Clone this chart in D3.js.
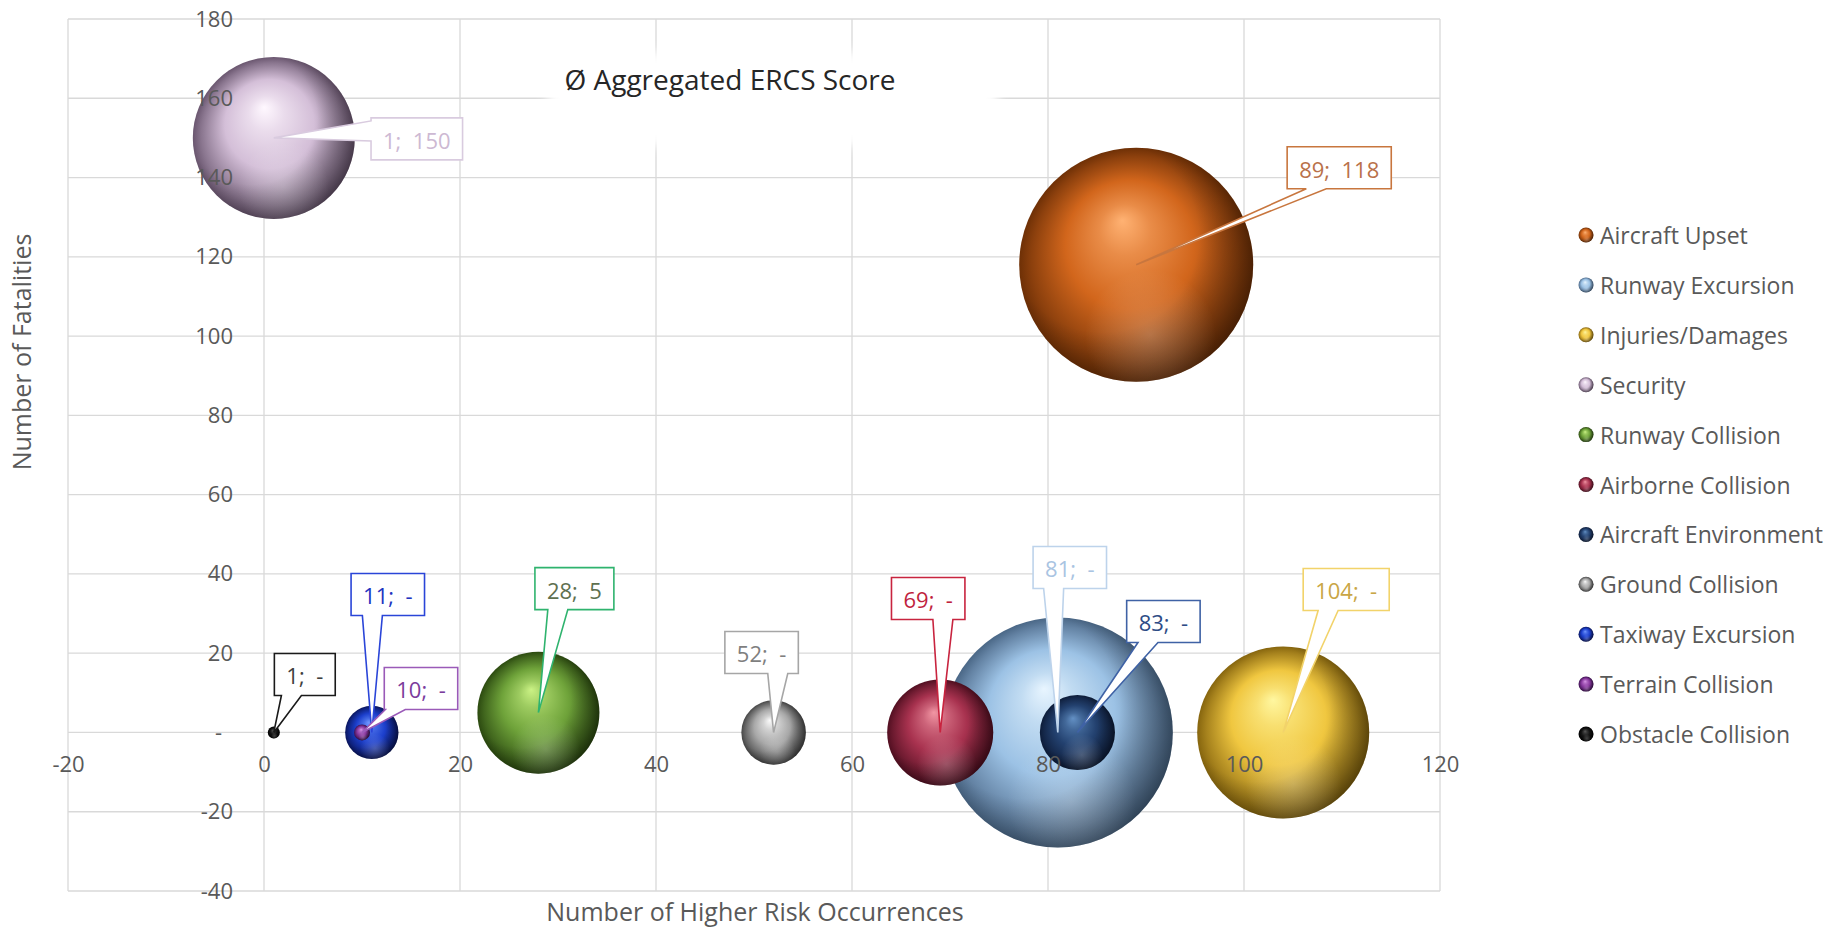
<!DOCTYPE html>
<html>
<head>
<meta charset="utf-8">
<script src="https://cdn.jsdelivr.net/npm/d3@7"></script>
<style>
  html, body { margin: 0; padding: 0; background: #ffffff; }
  svg { display: block; font-family: "Open Sans", "Noto Sans", sans-serif; }
</style>
</head>
<body>
<svg id="chart" width="1841" height="930"></svg>
<script>
// ---- data -------------------------------------------------------------
const categories = [
  "Aircraft Upset", "Runway Excursion", "Injuries/Damages", "Security",
  "Runway Collision", "Airborne Collision", "Aircraft Environment",
  "Ground Collision", "Taxiway Excursion", "Terrain Collision", "Obstacle Collision"
];
const occurrences = [89, 81, 104, 1, 28, 69, 83, 52, 11, 10, 1];
const fatalities  = [118, 0, 0, 150, 5, 0, 0, 0, 0, 0, 0];
const ercsScore   = [1369, 1323, 740, 656, 372, 281, 141, 104, 71, 6.4, 3.6];
const xTicks = [-20, 0, 20, 40, 60, 80, 100, 120];
const yTicks = [-40, -20, 0, 20, 40, 60, 80, 100, 120, 140, 160, 180];

// ---- styling ------------------------------------------------------------
const sphereColors = [
  { base: "#D2661C", light: "#FFB273", dark: "#6E3006" },
  { base: "#9CC2E5", light: "#E8F5FF", dark: "#4A6786" },
  { base: "#F0C740", light: "#FFF7A0", dark: "#86650E" },
  { base: "#D4BFD8", light: "#FFF8FF", dark: "#6A566F" },
  { base: "#6FA33A", light: "#CBF285", dark: "#2C4A10" },
  { base: "#A8324F", light: "#F296A4", dark: "#520F21" },
  { base: "#23416F", light: "#6390C4", dark: "#0D1C38" },
  { base: "#A8A8A8", light: "#FBFBFB", dark: "#464646" },
  { base: "#1C3FCC", light: "#7096FF", dark: "#0A165E" },
  { base: "#8A3AA0", light: "#D795E6", dark: "#3C0F4E" },
  { base: "#141414", light: "#5A5A5A", dark: "#000000" }
];
const labelColors = [
  { text: "#B9714A", border: "#C8763E" },
  { text: "#A9C4E2", border: "#BDD3EB" },
  { text: "#C9A646", border: "#F2D36A" },
  { text: "#CDB9D3", border: "#D9CBDF" },
  { text: "#5E7050", border: "#2FB36E" },
  { text: "#C01F3E", border: "#C8243F" },
  { text: "#2E4C86", border: "#3F62A5" },
  { text: "#7F7F7F", border: "#A6A6A6" },
  { text: "#1F35C0", border: "#2A45D8" },
  { text: "#7B3C9C", border: "#9A5AB8" },
  { text: "#3F3F3F", border: "#1A1A1A" }
];
// callout placement: box centre offset from the bubble centre (px) and
// where along the attached edge the pointer leaves the box (0..1)
const labelLayout = [
  [203, -97, 0.28], [12, -165, 0.28], [63, -143, 0.29], [143, 1, 0.31],
  [36, -124, 0.29], [-12, -134, 0.70], [86, -111, 0.29], [-12, -80, 0.72],
  [16, -138, 0.29], [59, -44, 0.15], [31, -58, 0.28]
];

// ---- scales -------------------------------------------------------------
const svg = d3.select("#chart");
const x = d3.scaleLinear().domain([-20, 120]).range([68, 1440]);
const y = d3.scaleLinear().domain([-40, 180]).range([891, 19]);
const r = d3.scaleSqrt().domain([0, d3.max(ercsScore)]).range([0, 117]);
// plain hyphen for negatives, a dash for zero on the value axis
const fmt = v => (v < 0 ? "-" : "") + Math.abs(v);

const defs = svg.append("defs");

// sphere shading per series
sphereColors.forEach((c, i) => {
  const g = defs.append("radialGradient").attr("id", "sph" + i)
    .attr("cx", 0.5).attr("cy", 0.5).attr("r", 0.5)
    .attr("fx", 0.44).attr("fy", 0.31);
  const mid = d3.interpolateRgb(c.light, c.base)(0.5);
  [[0, c.light], [0.22, mid], [0.55, c.base], [0.88, d3.interpolateRgb(c.base, c.dark)(0.7)], [1, c.dark]]
    .forEach(([o, col]) => g.append("stop").attr("offset", o).attr("stop-color", col));
});
// darker right/bottom rim
const shade = defs.append("radialGradient").attr("id", "shade")
  .attr("cx", 0.36).attr("cy", 0.38).attr("r", 0.74);
shade.append("stop").attr("offset", 0.55).attr("stop-color", "#000").attr("stop-opacity", 0);
shade.append("stop").attr("offset", 1).attr("stop-color", "#000").attr("stop-opacity", 0.42);
// soft lower reflection
const refl = defs.append("radialGradient").attr("id", "refl")
  .attr("cx", 0.56).attr("cy", 0.8).attr("r", 0.28);
refl.append("stop").attr("offset", 0).attr("stop-color", "#fff").attr("stop-opacity", 0.22);
refl.append("stop").attr("offset", 1).attr("stop-color", "#fff").attr("stop-opacity", 0);

defs.append("filter").attr("id", "soft")
  .attr("x", "-20%").attr("y", "-20%").attr("width", "140%").attr("height", "140%")
  .append("feGaussianBlur").attr("stdDeviation", 6);

// ---- grid ---------------------------------------------------------------
const grid = svg.append("g").attr("stroke", "#D9D9D9").attr("stroke-width", 1.3);
grid.selectAll("line.v").data(xTicks).join("line").attr("class", "v")
  .attr("x1", d => x(d)).attr("x2", d => x(d))
  .attr("y1", y(180)).attr("y2", y(-40));
grid.selectAll("line.h").data(yTicks).join("line").attr("class", "h")
  .attr("x1", x(-20)).attr("x2", x(120))
  .attr("y1", d => y(d)).attr("y2", d => y(d));

// ---- title with white backdrop -------------------------------------------
svg.append("rect").attr("x", 548).attr("y", 52).attr("width", 450).attr("height", 94)
  .attr("fill", "#fff").attr("filter", "url(#soft)");
svg.append("text").attr("x", 730).attr("y", 90).attr("text-anchor", "middle")
  .attr("font-size", 28).attr("fill", "#262626").text("Ø Aggregated ERCS Score");

// ---- axis titles ----------------------------------------------------------
svg.append("text").attr("x", 755).attr("y", 921).attr("text-anchor", "middle")
  .attr("font-size", 25).attr("fill", "#595959").text("Number of Higher Risk Occurrences");
svg.append("text").attr("transform", "translate(31,352) rotate(-90)").attr("text-anchor", "middle")
  .attr("font-size", 25).attr("fill", "#595959").text("Number of Fatalities");

// ---- bubbles ------------------------------------------------------------
const series = categories.map((name, i) => ({
  name, i, xv: occurrences[i], yv: fatalities[i], s: ercsScore[i]
}));

function sphere(sel, cx, cy, rad, i) {
  sel.append("circle").attr("cx", cx).attr("cy", cy).attr("r", rad).attr("fill", `url(#sph${i})`);
  sel.append("circle").attr("cx", cx).attr("cy", cy).attr("r", rad).attr("fill", "url(#shade)");
  sel.append("circle").attr("cx", cx).attr("cy", cy).attr("r", rad).attr("fill", "url(#refl)");
}

const bubbles = svg.append("g");
series.forEach(d => {
  sphere(bubbles.append("g"), x(d.xv), y(d.yv), r(d.s), d.i);
});

// ---- axes (crossing at zero, labels above the bubbles) ---------------------
const xAxis = svg.append("g").attr("transform", `translate(0,${y(0)})`)
  .call(d3.axisBottom(x).tickValues(xTicks).tickSize(0).tickPadding(24).tickFormat(fmt));
const yAxis = svg.append("g").attr("transform", `translate(${x(0)},0)`)
  .call(d3.axisLeft(y).tickValues(yTicks).tickSize(0).tickPadding(31)
    .tickFormat(d => d === 0 ? "-" : fmt(d)));
[xAxis, yAxis].forEach(a => {
  a.select(".domain").remove();
  a.selectAll("text").attr("font-family", "\"Open Sans\", sans-serif")
    .attr("font-size", 22).attr("fill", "#595959");
});
yAxis.selectAll(".tick").filter(d => d === 0).select("text").attr("dx", -11);

// ---- data label callouts ---------------------------------------------------
function calloutPath(x0, y0, w, h, tx, ty, frac, hw) {
  const x1 = x0 + w, y1 = y0 + h;
  const ddx = (tx - (x0 + w / 2)) / (w / 2), ddy = (ty - (y0 + h / 2)) / (h / 2);
  if (Math.abs(ddy) >= Math.abs(ddx)) {
    const bx = x0 + frac * w;
    if (ddy > 0) return `M${x0},${y0}H${x1}V${y1}H${bx + hw}L${tx},${ty}L${bx - hw},${y1}H${x0}Z`;
    return `M${x0},${y1}H${x1}V${y0}H${bx + hw}L${tx},${ty}L${bx - hw},${y0}H${x0}Z`;
  }
  const by = y0 + frac * h;
  if (ddx < 0) return `M${x1},${y0}H${x0}V${by - hw}L${tx},${ty}L${x0},${by + hw}V${y1}H${x1}Z`;
  return `M${x0},${y0}H${x1}V${by - hw}L${tx},${ty}L${x1},${by + hw}V${y1}H${x0}Z`;
}

const labels = svg.append("g");
series.forEach(d => {
  const [ox, oy, frac] = labelLayout[d.i];
  const px = x(d.xv), py = y(d.yv);
  const cx = px + ox, cy = py + oy;
  const g = labels.append("g");
  const path = g.append("path");
  const t = g.append("text").attr("x", cx).attr("y", cy + 1)
    .attr("text-anchor", "middle").attr("dominant-baseline", "central")
    .attr("font-size", 22).attr("fill", labelColors[d.i].text)
    .style("white-space", "pre")
    .text(`${d.xv};  ${d.yv === 0 ? "-" : d.yv}`);
  const w = t.node().getComputedTextLength() + 24, h = 42;
  path.attr("d", calloutPath(cx - w / 2, cy - h / 2, w, h, px, py, frac, 10))
    .attr("fill", "#fff").attr("stroke", labelColors[d.i].border)
    .attr("stroke-width", 1.6).attr("stroke-linejoin", "miter");
});

// ---- legend -------------------------------------------------------------
const legend = svg.append("g");
series.forEach(d => {
  const ly = 235 + d.i * 49.9;
  sphere(legend.append("g"), 1586, ly, 7.5, d.i);
  legend.append("text").attr("x", 1600).attr("y", ly).attr("dominant-baseline", "central")
    .attr("font-size", 23).attr("fill", "#595959").text(d.name);
});
</script>
</body>
</html>
